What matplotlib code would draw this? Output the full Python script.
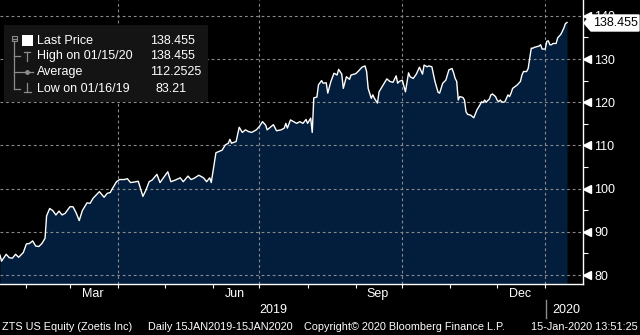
import numpy as np
import pandas as pd
import matplotlib
matplotlib.use("Agg")
import matplotlib.pyplot as plt
import matplotlib.dates as mdates
from matplotlib.patches import Polygon, Rectangle
from matplotlib.lines import Line2D

# ZTS daily closes
dates = [
    "2019-01-15", "2019-01-16", "2019-01-19", "2019-01-21", "2019-01-23", "2019-01-25", "2019-01-27",
    "2019-01-30", "2019-02-01", "2019-02-03", "2019-02-05", "2019-02-07", "2019-02-09", "2019-02-11",
    "2019-02-13", "2019-02-14", "2019-02-16", "2019-02-18", "2019-02-20", "2019-02-22", "2019-02-24",
    "2019-02-26", "2019-03-01", "2019-03-03", "2019-03-05", "2019-03-07", "2019-03-09", "2019-03-12",
    "2019-03-14", "2019-03-16", "2019-03-19", "2019-03-20", "2019-03-23", "2019-03-25", "2019-03-27",
    "2019-03-28", "2019-03-31", "2019-04-02", "2019-04-05", "2019-04-07", "2019-04-09", "2019-04-11",
    "2019-04-14", "2019-04-17", "2019-04-19", "2019-04-21", "2019-04-23", "2019-04-26", "2019-04-28",
    "2019-04-30", "2019-05-03", "2019-05-05", "2019-05-08", "2019-05-11", "2019-05-13", "2019-05-16",
    "2019-05-18", "2019-05-20", "2019-05-23", "2019-05-26", "2019-05-28", "2019-05-30", "2019-05-31",
    "2019-06-03", "2019-06-07", "2019-06-09", "2019-06-11", "2019-06-12", "2019-06-13", "2019-06-16",
    "2019-06-18", "2019-06-20", "2019-06-22", "2019-06-24", "2019-06-26", "2019-06-29", "2019-07-01",
    "2019-07-03", "2019-07-05", "2019-07-06", "2019-07-09", "2019-07-10", "2019-07-12", "2019-07-15",
    "2019-07-17", "2019-07-18", "2019-07-19", "2019-07-21", "2019-07-23", "2019-07-25", "2019-07-27",
    "2019-07-29", "2019-07-31", "2019-08-01", "2019-08-03", "2019-08-04", "2019-08-05", "2019-08-07",
    "2019-08-08", "2019-08-10", "2019-08-11", "2019-08-13", "2019-08-14", "2019-08-16", "2019-08-18",
    "2019-08-20", "2019-08-21", "2019-08-23", "2019-08-24", "2019-08-26", "2019-08-28", "2019-08-29",
    "2019-09-01", "2019-09-03", "2019-09-05", "2019-09-07", "2019-09-08", "2019-09-09", "2019-09-11",
    "2019-09-12", "2019-09-13", "2019-09-15", "2019-09-16", "2019-09-18", "2019-09-21", "2019-09-23",
    "2019-09-25", "2019-09-27", "2019-09-28", "2019-09-29", "2019-10-01", "2019-10-03", "2019-10-05",
    "2019-10-06", "2019-10-08", "2019-10-10", "2019-10-12", "2019-10-14", "2019-10-15", "2019-10-17",
    "2019-10-18", "2019-10-20", "2019-10-22", "2019-10-24", "2019-10-25", "2019-10-27", "2019-10-29",
    "2019-10-31", "2019-11-02", "2019-11-03", "2019-11-04", "2019-11-05", "2019-11-06", "2019-11-07",
    "2019-11-09", "2019-11-10", "2019-11-11", "2019-11-12", "2019-11-14", "2019-11-15", "2019-11-16",
    "2019-11-18", "2019-11-20", "2019-11-21", "2019-11-22", "2019-11-23", "2019-11-24", "2019-11-25",
    "2019-11-26", "2019-11-27", "2019-11-28", "2019-11-30", "2019-12-01", "2019-12-02", "2019-12-03",
    "2019-12-04", "2019-12-05", "2019-12-06", "2019-12-07", "2019-12-08", "2019-12-09", "2019-12-10",
    "2019-12-11", "2019-12-14", "2019-12-16", "2019-12-17", "2019-12-18", "2019-12-20", "2019-12-21",
    "2019-12-22", "2019-12-23", "2019-12-24", "2019-12-25", "2019-12-28", "2019-12-29", "2019-12-30",
    "2020-01-01", "2020-01-02", "2020-01-03", "2020-01-04", "2020-01-05", "2020-01-06", "2020-01-08",
    "2020-01-09", "2020-01-11", "2020-01-12", "2020-01-13", "2020-01-14", "2020-01-15",
]
prices = [
    84.6, 83.21, 84.8, 84.0, 83.9, 84.8, 84.1,
    85.2, 87.2, 87.3, 87.9, 86.7, 86.6, 87.3,
    88.5, 93.7, 95.4, 94.9, 93.9, 94.8, 93.9,
    94.3, 95.8, 95.8, 94.4, 92.6, 94.9, 96.7,
    96.6, 97.8, 98.9, 99.3, 98.0, 98.9, 99.1,
    99.8, 101.6, 102.1, 102.1, 102.3, 101.4, 101.5,
    101.7, 98.2, 99.7, 101.6, 102.0, 103.3, 101.4,
    102.4, 103.9, 101.6, 102.0, 102.5, 101.6, 102.9,
    102.1, 102.4, 103.1, 102.5, 101.6, 102.5, 101.4,
    108.3, 108.9, 110.1, 110.5, 111.4, 110.5, 110.9,
    114.2, 113.0, 113.6, 113.2, 113.0, 113.6, 114.4,
    115.5, 114.7, 113.6, 114.5, 114.8, 113.4, 113.6,
    114.0, 115.1, 114.0, 115.9, 115.5, 115.1, 115.5,
    115.1, 116.0, 115.1, 116.3, 113.0, 121.0, 121.2,
    124.0, 125.0, 124.4, 124.5, 122.1, 124.8, 126.7,
    126.3, 127.6, 126.5, 123.2, 125.9, 125.3, 126.3,
    126.6, 127.3, 128.1, 128.4, 127.1, 123.2, 120.9,
    121.7, 120.9, 119.8, 122.4, 123.6, 125.4, 124.8,
    124.6, 126.1, 124.4, 124.8, 125.1, 122.4, 126.8,
    125.9, 125.5, 126.5, 128.1, 126.5, 128.6, 128.2,
    128.4, 128.2, 124.8, 122.3, 122.1, 124.4, 125.1,
    127.5, 127.8, 126.8, 125.5, 124.8, 120.5, 121.3,
    121.1, 120.5, 117.8, 117.2, 117.0, 116.7, 116.4,
    118.2, 119.4, 120.1, 119.9, 120.5, 120.0, 120.4,
    120.7, 121.7, 121.9, 121.3, 120.5, 120.1, 120.5,
    120.1, 120.0, 120.1, 120.9, 121.7, 121.3, 122.1,
    123.2, 124.0, 124.8, 126.3, 127.1, 127.1, 127.8,
    130.1, 132.5, 132.5, 132.7, 133.0, 133.3, 132.3,
    132.3, 134.1, 134.2, 133.3, 133.3, 133.6, 133.6,
    134.9, 135.7, 136.4, 137.2, 138.2, 138.455,
]

y_ticks = [80, 90, 100, 110, 120, 130, 140]
month_labels = ["Mar", "Jun", "Sep", "Dec"]
month_label_dates = ["2019-03-16", "2019-06-15", "2019-09-15", "2019-12-16"]
grid_dates = ["2019-04-01", "2019-07-01", "2019-10-01", "2020-01-01"]

legend_names = ["Last Price", "High on 01/15/20", "Average", "Low on 01/16/19"]
legend_values = ["138.455", "138.455", "112.2525", "83.21"]
last_price = "138.455"
footer = ["ZTS US Equity (Zoetis Inc)", "Daily 15JAN2019-15JAN2020",
          "Copyright\u00a9 2020 Bloomberg Finance L.P.", "15-Jan-2020 13:51:25"]

W, H = 640, 335
def fx(x):
    return x / W
def fy(y):
    return 1 - y / H

navy = "#031e3d"
gridc = "#8a8a8a"
greyc = "#8c8c8c"
fs = 9
plt.rcParams["font.family"] = ["Liberation Sans", "DejaVu Sans"]

fig = plt.figure(figsize=(6.4, 3.35), dpi=100, facecolor="black")
ax = fig.add_axes([0, fy(284), fx(583), 284 / H])
ax.set_facecolor("black")

d = pd.to_datetime(dates)
start = pd.Timestamp("2019-01-15")
ax.set_xlim(start, start + pd.Timedelta(days=375.3))
ax.set_ylim(77.92, 143.66)

ax.fill_between(d, prices, 70, color=navy, lw=0, zorder=1)
ax.plot(d, prices, color="white", lw=1.0, zorder=4)

for yv in y_ticks:
    ax.axhline(yv, color=gridc, lw=0.8, ls=(0, (2.5, 2.5)), zorder=2)
for gd in grid_dates:
    ax.axvline(pd.Timestamp(gd), color=gridc, lw=0.8, ls=(0, (2.5, 2.5)), zorder=2)

for s in ["left", "top"]:
    ax.spines[s].set_visible(False)
for s in ["right", "bottom"]:
    ax.spines[s].set_color("white")
    ax.spines[s].set_linewidth(1.0)

# y axis on the right
ax.yaxis.tick_right()
ax.set_yticks(y_ticks)
ax.set_yticklabels([str(v) for v in y_ticks])
ax.set_yticks(np.arange(85, 140, 10), minor=True)
ax.tick_params(axis="y", which="major", length=0, pad=8, labelcolor="white", labelsize=fs)
ax.tick_params(axis="y", which="minor", length=3.5, width=0.8, color="white", direction="out")
ax.plot([1.0075] * len(y_ticks), y_ticks, ls="none", marker="<", ms=6, color="white",
        transform=ax.get_yaxis_transform(), clip_on=False, zorder=5)

# x axis
month_starts = pd.date_range("2019-02-01", "2020-01-01", freq="MS")
ax.set_xticks(mdates.date2num(month_starts), minor=True)
ax.set_xticks(mdates.date2num(pd.to_datetime(month_label_dates)))
ax.set_xticklabels(month_labels)
ax.tick_params(axis="x", which="minor", length=3, width=0.8, color="white", direction="out")
ax.tick_params(axis="x", which="major", length=0, pad=3, labelcolor="white", labelsize=fs)

fig.text(fx(273), fy(310), "2019", color="white", fontsize=fs, ha="center", va="center")
fig.text(fx(552), fy(310), "2020", color="white", fontsize=fs, ha="left", va="center")
fig.add_artist(Line2D([fx(546), fx(546)], [fy(300), fy(318)], color=greyc, lw=1))

# footer
ffs = 7.8
fig.text(fx(2), fy(327), footer[0], color="white", fontsize=ffs, ha="left", va="center")
fig.text(fx(148), fy(327), footer[1], color="white", fontsize=ffs, ha="left", va="center")
fig.text(fx(304), fy(327), footer[2], color="white", fontsize=ffs, ha="left", va="center")
fig.text(fx(638), fy(327), footer[3], color="white", fontsize=ffs, ha="right", va="center")

# last price tag
tag = Polygon([[fx(584), fy(23)], [fx(591), fy(15)], [fx(639), fy(15)], [fx(639), fy(31)],
               [fx(591), fy(31)]], closed=True, transform=fig.transFigure, fc="white", ec="white",
              zorder=5)
fig.add_artist(tag)
fig.text(fx(593), fy(23.5), last_price, color="black", fontsize=fs, ha="left", va="center", zorder=6)

# legend panel
fig.add_artist(Rectangle((fx(4), fy(102)), fx(208) - fx(4), fy(25) - fy(102),
                         transform=fig.transFigure, fc="#141414", ec="none", zorder=1))
rows_y = [40.7, 56.3, 72.3, 88.6]
for i, (nm, val) in enumerate(zip(legend_names, legend_values)):
    fig.text(fx(37), fy(rows_y[i]), nm, color="white", fontsize=fs, ha="left", va="center", zorder=3)
    xv = 156 if i == 3 else 150
    fig.text(fx(xv), fy(rows_y[i]), val, color="white", fontsize=fs, ha="left", va="center", zorder=3)

def seg(x0, y0, x1, y1, c=greyc, lw=0.9):
    fig.add_artist(Line2D([fx(x0), fx(x1)], [fy(y0), fy(y1)], color=c, lw=lw, zorder=3))

# tree icons
fig.add_artist(Rectangle((fx(11.5), fy(41)), fx(5), fy(36) - fy(41), transform=fig.transFigure,
                         fc="none", ec=greyc, lw=0.8, zorder=3))
seg(12.5, 38.5, 15.5, 38.5)
seg(14, 41, 14, 88.6)
for yy in rows_y[1:]:
    seg(14, yy, 20, yy)
fig.add_artist(Rectangle((fx(22), fy(45.5)), fx(10.5), fy(35) - fy(45.5), transform=fig.transFigure,
                         fc="white", ec="none", zorder=3))
seg(24, 51.5, 30, 51.5)
seg(27, 51.5, 27, 61)
seg(21, 72.3, 33, 72.3)
fig.add_artist(Line2D([fx(27)], [fy(72.3)], marker="o", ms=2.5, color=greyc, zorder=3))
seg(27, 83, 27, 92)
seg(23.5, 92, 30.5, 92)

fig.savefig("out.png", dpi=100, facecolor="black")
